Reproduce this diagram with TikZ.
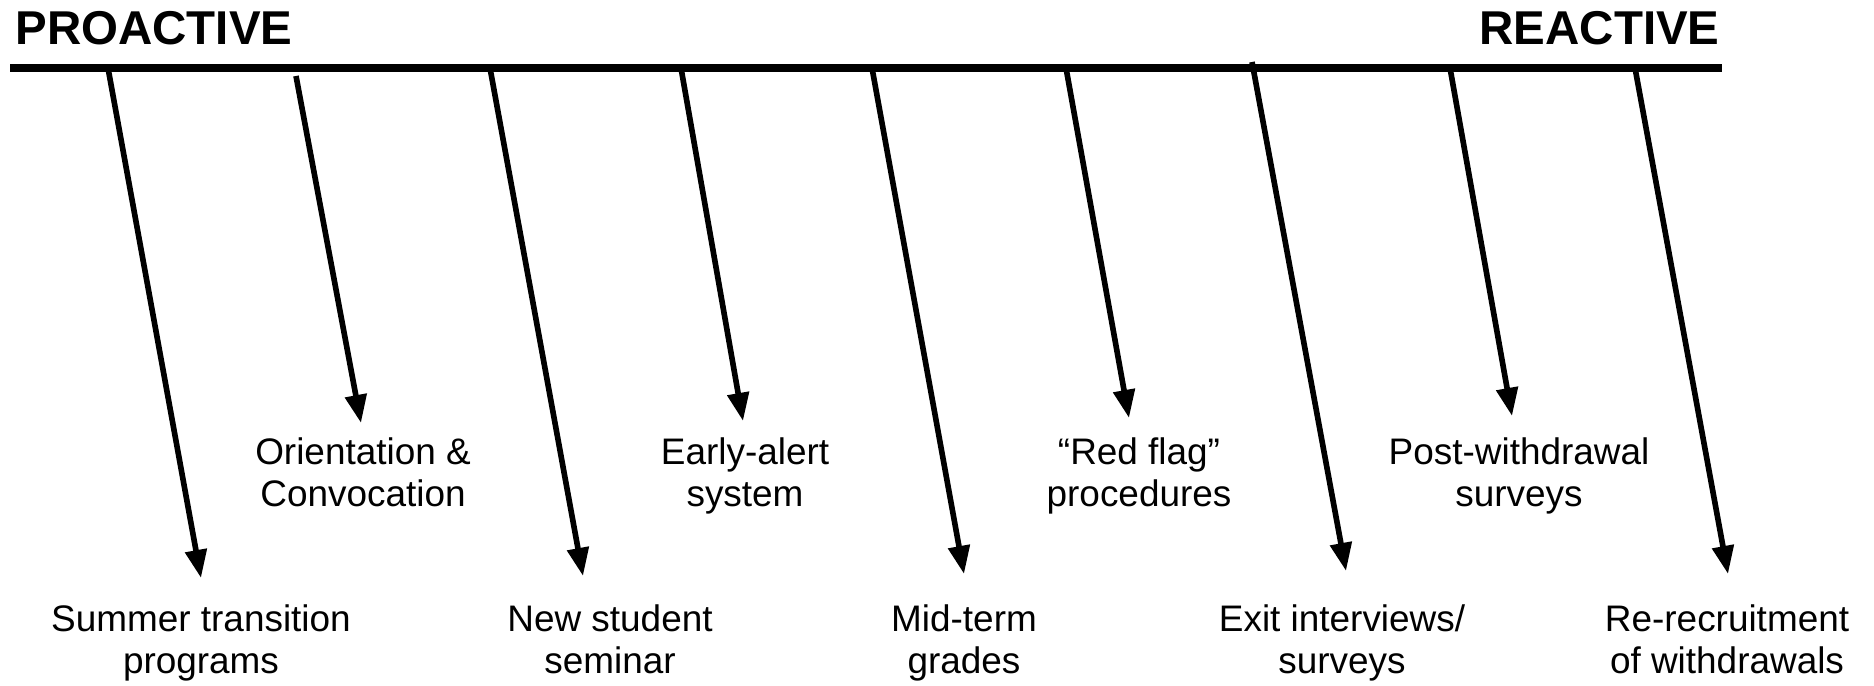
\documentclass[tikz,border=0pt]{standalone}
\usepackage{fontspec}
\setmainfont{Liberation Sans}
\usetikzlibrary{arrows.meta}

\begin{document}
\begin{tikzpicture}[x=0.01cm,y=-0.01cm,line width=1.4pt,>=Stealth]
\tikzset{
  ends/.style={font=\fontsize{13.5}{15}\selectfont\bfseries,inner sep=0pt},
  lbl/.style={align=center,font=\fontsize{10.5}{11.7}\selectfont,inner sep=0pt,anchor=base},
  arr/.style={-{Triangle[length=8pt,width=6pt]},line width=1.6pt}
}
\useasboundingbox (0,0) rectangle (1874,685);
% the two ends of the scale
\node[ends,anchor=base west] (pro) at (13,45) {PROACTIVE};
\node[ends,anchor=base east] (rea) at (1722,45) {REACTIVE};
\draw[line width=2pt] (10,68) -- (1722,68);
% labels, long arrows (bottom row)
\node[lbl] (sumprog) at (201,673) {Summer transition\\programs};
\node[lbl] (newsem) at (610,673) {New student\\seminar};
\node[lbl] (midterm) at (964,673) {Mid-term\\grades};
\node[lbl] (exitint) at (1342,673) {Exit interviews/\\surveys};
\node[lbl] (rerec) at (1727,673) {Re-recruitment\\of withdrawals};
% labels, short arrows (middle row)
\node[lbl] (orient) at (363,506) {Orientation \&\\Convocation};
\node[lbl] (alert) at (745,506) {Early-alert\\system};
\node[lbl] (redflag) at (1139,506) {``Red flag''\\procedures};
\node[lbl] (postwd) at (1519,506) {Post-withdrawal\\surveys};
% where the arrows leave the line and where they point
\coordinate (sumprog-t) at (108,68);   \coordinate (sumprog-h) at (201,578);
\coordinate (orient-t) at (296,76);    \coordinate (orient-h) at (361,423);
\coordinate (newsem-t) at (490,68);    \coordinate (newsem-h) at (583,576);
\coordinate (alert-t) at (681,68);     \coordinate (alert-h) at (743,421);
\coordinate (midterm-t) at (872,68);   \coordinate (midterm-h) at (964,574);
\coordinate (redflag-t) at (1066,68);  \coordinate (redflag-h) at (1129,418);
\coordinate (exitint-t) at (1252,62);  \coordinate (exitint-h) at (1346,571);
\coordinate (postwd-t) at (1450,68);   \coordinate (postwd-h) at (1512,416);
\coordinate (rerec-t) at (1635,68);    \coordinate (rerec-h) at (1728,574);
% arrows
\draw[arr] (sumprog-t) -- (sumprog-h);
\draw[arr] (orient-t) -- (orient-h);
\draw[arr] (newsem-t) -- (newsem-h);
\draw[arr] (alert-t) -- (alert-h);
\draw[arr] (midterm-t) -- (midterm-h);
\draw[arr] (redflag-t) -- (redflag-h);
\draw[arr] (exitint-t) -- (exitint-h);
\draw[arr] (postwd-t) -- (postwd-h);
\draw[arr] (rerec-t) -- (rerec-h);
\end{tikzpicture}
\end{document}
